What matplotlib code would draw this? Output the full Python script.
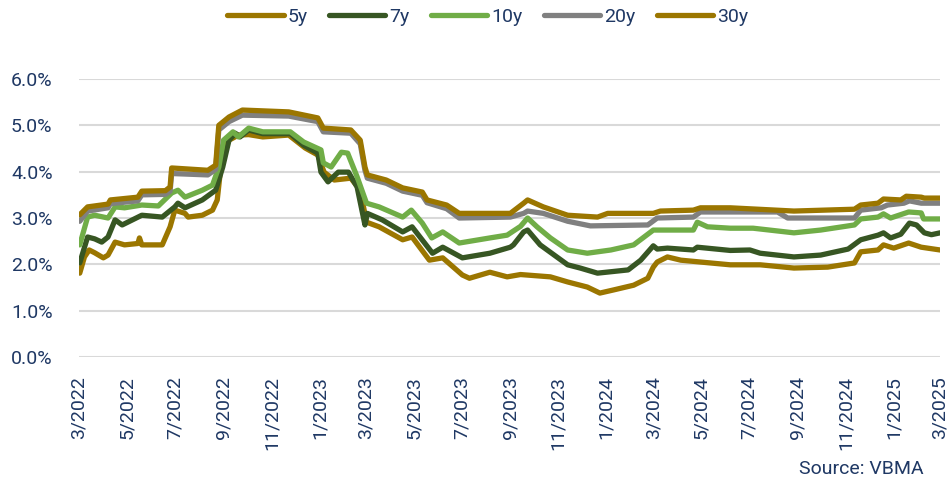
import numpy as np
import pandas as pd
import matplotlib
matplotlib.use("Agg")
import matplotlib.pyplot as plt
import matplotlib.dates as mdates

plt.rcParams['font.family'] = ['Roboto', 'DejaVu Sans']

# ---- data (yield, %) ----
d30 = ["2022-03-02", "2022-03-12", "2022-04-07", "2022-04-10", "2022-05-15", "2022-05-20",
       "2022-06-19", "2022-06-25", "2022-06-27", "2022-08-12", "2022-08-22", "2022-08-26",
       "2022-09-08", "2022-09-25", "2022-11-23", "2022-12-30", "2023-01-06", "2023-02-10",
       "2023-02-22", "2023-02-28", "2023-03-03", "2023-03-27", "2023-04-17", "2023-05-12",
       "2023-05-18", "2023-06-12", "2023-06-28", "2023-09-01", "2023-09-18", "2023-09-23",
       "2023-10-13", "2023-11-13", "2023-12-21", "2024-01-03", "2024-03-01", "2024-03-10",
       "2024-04-21", "2024-04-30", "2024-06-07", "2024-08-27", "2024-11-12", "2024-11-20",
       "2024-12-12", "2024-12-19", "2025-01-10", "2025-01-17", "2025-02-05", "2025-02-09",
       "2025-03-01"]
v30 = [3.07, 3.24, 3.30, 3.39, 3.45, 3.58,
       3.59, 3.67, 4.08, 4.03, 4.14, 5.00,
       5.18, 5.33, 5.29, 5.16, 4.94, 4.90,
       4.68, 4.10, 3.93, 3.82, 3.65, 3.56,
       3.39, 3.28, 3.10, 3.10, 3.32, 3.39,
       3.24, 3.06, 3.02, 3.10, 3.10, 3.15,
       3.17, 3.22, 3.22, 3.15, 3.19, 3.28,
       3.32, 3.41, 3.39, 3.47, 3.45, 3.43,
       3.43]

d20 = ["2022-03-02", "2022-03-12", "2022-04-07", "2022-04-10", "2022-05-15", "2022-05-20",
       "2022-06-19", "2022-06-25", "2022-06-27", "2022-08-12", "2022-08-22", "2022-08-26",
       "2022-09-08", "2022-09-25", "2022-11-23", "2022-12-30", "2023-01-06", "2023-02-10",
       "2023-02-22", "2023-02-28", "2023-03-03", "2023-03-27", "2023-04-17", "2023-05-12",
       "2023-05-18", "2023-06-12", "2023-06-28", "2023-09-01", "2023-09-18", "2023-09-23",
       "2023-10-13", "2023-11-13", "2023-12-12", "2024-02-23", "2024-03-06", "2024-04-21",
       "2024-04-30", "2024-08-06", "2024-08-19", "2024-11-12", "2024-11-20", "2024-12-16",
       "2024-12-24", "2025-01-14", "2025-01-21", "2025-02-05", "2025-03-01"]
v20 = [2.93, 3.15, 3.22, 3.31, 3.37, 3.50,
       3.51, 3.58, 3.96, 3.93, 4.05, 4.90,
       5.08, 5.22, 5.20, 5.08, 4.86, 4.83,
       4.60, 4.03, 3.86, 3.75, 3.58, 3.49,
       3.33, 3.20, 3.00, 3.02, 3.10, 3.15,
       3.10, 2.93, 2.83, 2.85, 3.00, 3.02,
       3.13, 3.13, 3.00, 3.00, 3.17, 3.22,
       3.28, 3.32, 3.37, 3.32, 3.32]

d10 = ["2022-03-02", "2022-03-12", "2022-03-21", "2022-04-07", "2022-04-16", "2022-04-28",
       "2022-05-20", "2022-06-10", "2022-06-27", "2022-07-05", "2022-07-14", "2022-08-05",
       "2022-08-18", "2022-08-26", "2022-09-01", "2022-09-13", "2022-09-20", "2022-10-03",
       "2022-10-21", "2022-11-25", "2022-12-12", "2023-01-03", "2023-01-06", "2023-01-16",
       "2023-01-29", "2023-02-06", "2023-02-18", "2023-03-02", "2023-03-18", "2023-04-17",
       "2023-04-28", "2023-05-12", "2023-05-24", "2023-06-07", "2023-06-28", "2023-08-06",
       "2023-08-28", "2023-09-05", "2023-09-14", "2023-09-23", "2023-10-05", "2023-10-22",
       "2023-11-13", "2023-12-08", "2024-01-07", "2024-02-05", "2024-03-01", "2024-04-21",
       "2024-04-26", "2024-05-09", "2024-06-07", "2024-07-06", "2024-08-27", "2024-09-30",
       "2024-11-12", "2024-11-20", "2024-12-12", "2024-12-19", "2024-12-28", "2025-01-20",
       "2025-02-05", "2025-02-08", "2025-03-01"]
v10 = [2.42, 3.02, 3.06, 3.00, 3.24, 3.22,
       3.28, 3.26, 3.54, 3.60, 3.45, 3.60,
       3.71, 4.10, 4.68, 4.86, 4.75, 4.94,
       4.86, 4.86, 4.64, 4.47, 4.19, 4.10,
       4.42, 4.40, 3.89, 3.32, 3.24, 3.02,
       3.17, 2.89, 2.57, 2.70, 2.46, 2.57,
       2.63, 2.72, 2.82, 3.00, 2.81, 2.57,
       2.31, 2.24, 2.31, 2.42, 2.74, 2.74,
       2.91, 2.81, 2.78, 2.78, 2.68, 2.74,
       2.85, 2.98, 3.02, 3.09, 3.00, 3.13,
       3.11, 2.98, 2.98]

d7 = ["2022-03-02", "2022-03-12", "2022-03-21", "2022-03-30", "2022-04-07", "2022-04-16",
      "2022-04-25", "2022-05-20", "2022-06-15", "2022-07-01", "2022-07-05", "2022-07-14",
      "2022-08-05", "2022-08-22", "2022-08-31", "2022-09-08", "2022-09-16", "2022-09-22",
      "2022-10-03", "2022-10-21", "2022-11-25", "2022-12-12", "2022-12-30", "2023-01-03",
      "2023-01-12", "2023-01-25", "2023-02-07", "2023-02-18", "2023-02-28", "2023-03-03",
      "2023-03-22", "2023-04-17", "2023-04-29", "2023-05-25", "2023-06-07", "2023-07-02",
      "2023-08-06", "2023-09-01", "2023-09-05", "2023-09-18", "2023-09-23", "2023-10-09",
      "2023-11-13", "2023-11-29", "2023-12-21", "2024-01-29", "2024-02-14", "2024-03-01",
      "2024-03-06", "2024-03-19", "2024-04-21", "2024-04-26", "2024-06-07", "2024-07-02",
      "2024-07-15", "2024-08-27", "2024-09-30", "2024-11-04", "2024-11-20", "2024-12-12",
      "2024-12-19", "2024-12-28", "2025-01-10", "2025-01-21", "2025-01-30", "2025-02-09",
      "2025-02-18", "2025-03-01"]
v7 = [2.03, 2.59, 2.55, 2.48, 2.59, 2.96,
      2.85, 3.06, 3.02, 3.24, 3.32, 3.22,
      3.39, 3.60, 4.10, 4.68, 4.83, 4.75,
      4.90, 4.82, 4.82, 4.57, 4.40, 3.99,
      3.78, 3.99, 3.99, 3.67, 2.85, 3.10,
      2.96, 2.70, 2.81, 2.24, 2.37, 2.14,
      2.24, 2.37, 2.42, 2.70, 2.74, 2.42,
      1.99, 1.92, 1.81, 1.88, 2.09, 2.40,
      2.33, 2.35, 2.31, 2.37, 2.30, 2.31,
      2.24, 2.16, 2.20, 2.33, 2.53, 2.63,
      2.68, 2.57, 2.65, 2.89, 2.85, 2.68,
      2.64, 2.68]

d5 = ["2022-03-02", "2022-03-08", "2022-03-14", "2022-03-21", "2022-04-01", "2022-04-07",
      "2022-04-16", "2022-04-28", "2022-05-15", "2022-05-17", "2022-05-20", "2022-06-15",
      "2022-06-25", "2022-07-01", "2022-07-14", "2022-07-18", "2022-08-05", "2022-08-18",
      "2022-08-24", "2022-08-31", "2022-09-08", "2022-09-20", "2022-10-03", "2022-10-21",
      "2022-11-23", "2022-12-14", "2022-12-30", "2023-01-07", "2023-01-20", "2023-02-10",
      "2023-02-22", "2023-03-02", "2023-03-18", "2023-04-17", "2023-04-29", "2023-05-21",
      "2023-06-07", "2023-07-02", "2023-07-11", "2023-08-06", "2023-08-28", "2023-09-14",
      "2023-10-22", "2023-11-13", "2023-12-08", "2023-12-24", "2024-01-11", "2024-02-05",
      "2024-02-23", "2024-03-01", "2024-03-06", "2024-03-19", "2024-04-05", "2024-04-30",
      "2024-06-07", "2024-07-15", "2024-08-27", "2024-10-09", "2024-11-12", "2024-11-20",
      "2024-12-12", "2024-12-19", "2025-01-01", "2025-01-20", "2025-02-05", "2025-03-01"]
v5 = [1.81, 2.16, 2.31, 2.25, 2.14, 2.20,
      2.48, 2.42, 2.45, 2.57, 2.42, 2.42,
      2.81, 3.17, 3.10, 3.02, 3.06, 3.17,
      3.39, 4.47, 4.68, 4.79, 4.80, 4.75,
      4.79, 4.51, 4.36, 3.99, 3.82, 3.86,
      3.60, 2.91, 2.81, 2.53, 2.59, 2.09,
      2.14, 1.77, 1.70, 1.83, 1.73, 1.78,
      1.73, 1.62, 1.51, 1.38, 1.45, 1.55,
      1.70, 1.94, 2.05, 2.16, 2.09, 2.05,
      1.99, 1.99, 1.92, 1.94, 2.03, 2.27,
      2.31, 2.42, 2.35, 2.46, 2.37, 2.31]

labels = ["5y", "7y", "10y", "20y", "30y"]
colors = ["#9B7600", "#375623", "#70AD47", "#808080", "#9B7600"]
series = [(d5, v5), (d7, v7), (d10, v10), (d20, v20), (d30, v30)]

txt = "#1F3864"

fig = plt.figure(figsize=(9.49, 4.82), dpi=100)
ax = fig.add_axes([0.0832, 0.2593, 0.9074, 0.5768])

for (d, v), lab, c in zip(series, labels, colors):
    ax.plot(pd.to_datetime(d), v, color=c, lw=3.8, label=lab,
            solid_joinstyle="round", solid_capstyle="round")

ax.set_ylim(0, 6)
ax.set_yticks(np.arange(0, 7, 1))
ax.set_yticklabels(["%.1f%%" % t for t in range(7)])
ax.set_xlim(pd.Timestamp("2022-03-01"), pd.Timestamp("2025-03-01"))
xt = pd.date_range("2022-03-01", "2025-03-01", freq="2MS")
ax.set_xticks(xt)
ax.set_xticklabels(["%d/%d" % (t.month, t.year) for t in xt], rotation=90)

ax.grid(axis="y", color="#D9D9D9", lw=1.5)
ax.set_axisbelow(True)
for s in ax.spines.values():
    s.set_visible(False)
ax.tick_params(axis="both", length=0, colors=txt, labelsize=14)
ax.tick_params(axis="y", pad=19)
ax.tick_params(axis="x", pad=14)

fig.legend(loc="center", bbox_to_anchor=(0.514, 0.965), ncol=5, frameon=False,
           fontsize=14, handlelength=2.9, handletextpad=0.2, columnspacing=1.1,
           labelcolor=txt)

fig.text(0.973, 0.008, "Source: VBMA", ha="right", va="bottom", fontsize=14, color=txt)

fig.savefig("out.png", dpi=100)
